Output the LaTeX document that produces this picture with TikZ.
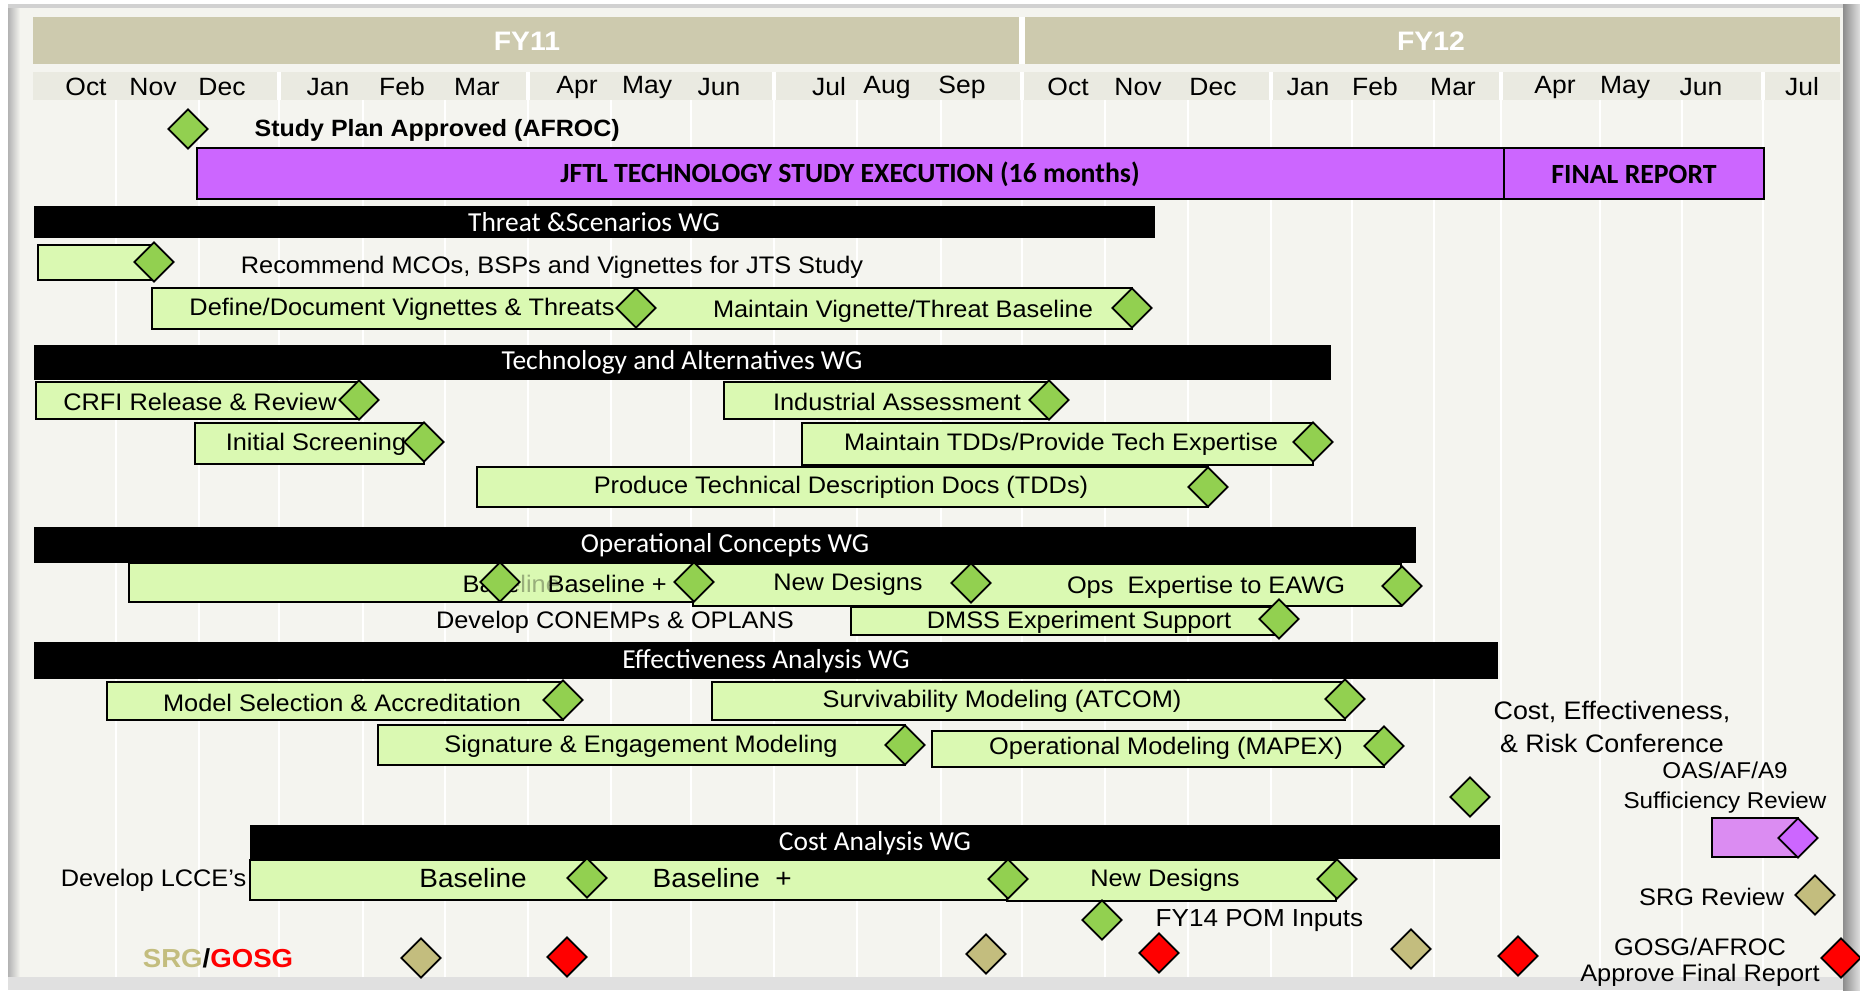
\documentclass[tikz,border=0pt]{standalone}
\usepackage{fontspec}
\setmainfont[FakeStretch=1.06]{Liberation Sans}
\newfontfamily\calibri{Carlito}
\usetikzlibrary{shapes.geometric}
\definecolor{panel}{HTML}{F4F4EF}
\definecolor{fyband}{HTML}{CDCAAE}
\definecolor{monthrow}{HTML}{EAEAE1}
\definecolor{taskfill}{HTML}{DAF9B2}
\definecolor{milegreen}{HTML}{92D050}
\definecolor{study}{HTML}{CC66FF}
\definecolor{studylight}{HTML}{DB8CF2}
\definecolor{srg}{HTML}{C3BD7E}
\definecolor{gosg}{HTML}{FF0000}
\newcommand{\lblfont}{\fontsize{6.8}{8}\selectfont}
\newcommand{\monthfont}{\fontsize{7.1}{8}\selectfont}
\newcommand{\notefont}{\fontsize{7.2}{9.4}\selectfont}
\newcommand{\smallnote}{\fontsize{6.5}{8.5}\selectfont}
\newcommand{\costfont}{\fontsize{7.5}{9}\selectfont}
\newcommand{\wgfont}{\calibri\fontsize{7.8}{9}\selectfont}
\newcommand{\studyfont}{\calibri\bfseries\fontsize{7.9}{9}\selectfont}

\begin{document}
\begin{tikzpicture}[x=0.01cm, y=-0.01cm,
  task/.style={draw=black, fill=taskfill, line width=0.6pt},
  wgbar/.style={fill=black},
  studybar/.style={draw=black, fill=study, line width=0.7pt},
  mile/.style={diamond, draw=black, line width=0.5pt, minimum width=0.4cm, minimum height=0.4cm, inner sep=0pt},
  tlabel/.style={font=\lblfont, inner sep=0pt},
  costlabel/.style={font=\costfont, inner sep=0pt},
  wglabel/.style={font=\wgfont, text=white, inner sep=0pt},
  studylabel/.style={font=\studyfont, inner sep=0pt},
  month/.style={font=\monthfont, inner sep=0pt},
  note/.style={font=\notefont, inner sep=0pt}]
  \useasboundingbox (0,0) rectangle (1860,990);

  % Frame and shadow
  \fill[white] (0,0) rectangle (1860,990);
  \fill[black!18] (8,4) rectangle (1860,990);
  \fill[panel] (18,8) rectangle (1843,977);
  \shade[left color=black!30, right color=panel] (8,8) rectangle (20,977);
  \shade[left color=black!45, right color=black!12] (1843,4) rectangle (1860,990);
  \fill[black!12] (8,977) rectangle (1843,990);

  % Month grid
  \foreach \x in {116,199,279,363,445,528,611,691,774,857,941,1022,1105,1188,1271,1352,1434,1501,1600,1682,1763}
    \draw[white, line width=0.8pt] (\x,100) -- (\x,977);

  % Fiscal years and months
  \fill[fyband] (33,17) rectangle (1840,64);
  \draw[white, line width=1.5pt] (1022,17) -- (1022,64);
  \node[font=\bfseries\fontsize{7.6}{9}\selectfont, text=white, inner sep=0pt] (fy11) at (527,41) {FY11};
  \node[font=\bfseries\fontsize{7.6}{9}\selectfont, text=white, inner sep=0pt] (fy12) at (1431,41) {FY12};
  \fill[monthrow] (33,72) rectangle (1840,100);
  \foreach \x in {279,528,774,1022,1271,1501,1763}
    \draw[white, line width=1pt] (\x,72) -- (\x,100);
  \foreach \x/\m in {86/Oct,153/Nov,222/Dec,328/Jan,402/Feb,477/Mar,577/Apr,647/May,719/Jun,829/Jul,887/Aug,962/Sep,
                     1068/Oct,1138/Nov,1213/Dec,1308/Jan,1375/Feb,1453/Mar,1555/Apr,1625/May,1701/Jun,1802/Jul}
    \node[month] (mo\x) at (\x,87) {\m};

  % Study execution
  \node[font=\bfseries\fontsize{6.7}{8}\selectfont, anchor=west, inner sep=0pt] (plan) at (254,130) {Study Plan Approved (AFROC)};
  \draw[studybar] (197,148) rectangle (1504,199);
  \draw[studybar] (1504,148) rectangle (1764,199);
  \node[studylabel] (exec) at (850,174) {JFTL TECHNOLOGY STUDY EXECUTION (16 months)};
  \node[studylabel] (final) at (1634,174) {FINAL REPORT};

  % Threat & Scenarios WG
  \fill[wgbar] (34,206) rectangle (1155,238);
  \node[wglabel] (wg1) at (594,222) {Threat \&Scenarios WG};
  \draw[task] (38,245) rectangle (154,280);
  \draw[task] (152,288) rectangle (636,329);
  \draw[task] (636,288) rectangle (1132,329);
  \node[tlabel] (recommend) at (552,267) {Recommend MCOs, BSPs and Vignettes for JTS Study};
  \node[tlabel] (define) at (402,309) {Define/Document Vignettes \& Threats};
  \node[tlabel] (maintvig) at (903,311) {Maintain Vignette/Threat Baseline};

  % Technology and Alternatives WG
  \fill[wgbar] (34,345) rectangle (1331,380);
  \node[wglabel] (wg2) at (682,362) {Technology and Alternatives WG};
  \draw[task] (36,382) rectangle (359,419);
  \draw[task] (724,382) rectangle (1049,419);
  \draw[task] (195,423) rectangle (424,464);
  \draw[task] (802,423) rectangle (1313,465);
  \draw[task] (477,467) rectangle (1208,507);
  \node[tlabel] (crfi) at (200,402) {CRFI Release \& Review};
  \node[tlabel] (industry) at (897,402) {Industrial Assessment};
  \node[tlabel] (screen) at (316,444) {Initial Screening};
  \node[tlabel] (maintdd) at (1061,444) {Maintain TDDs/Provide Tech Expertise};
  \node[tlabel] (tdds) at (841,487) {Produce Technical Description Docs (TDDs)};

  % Operational Concepts WG
  \fill[wgbar] (34,527) rectangle (1416,563);
  \node[wglabel] (wg3) at (725,545) {Operational Concepts WG};
  \draw[task] (129,563) rectangle (693,602);
  \draw[task] (693,564) rectangle (1401,606);
  \node[tlabel, anchor=west] (base1) at (462,584) {Baseline};
  \fill[taskfill, opacity=0.7] (517,569) rectangle (562,598);
  \node[tlabel, anchor=west] (base2) at (547,584) {Baseline +};
  \node[tlabel] (newdes1) at (848,584) {New Designs};
  \node[tlabel] (opsexp) at (1206,587) {Ops\ \ Expertise to EAWG};
  \node[tlabel] (conemp) at (615,622) {Develop CONEMPs \& OPLANS};
  \draw[task] (851,607) rectangle (1279,635);
  \node[tlabel] (dmss) at (1079,622) {DMSS Experiment Support};

  % Effectiveness Analysis WG
  \fill[wgbar] (34,642) rectangle (1498,679);
  \node[wglabel] (wg4) at (766,661) {Effectiveness Analysis WG};
  \draw[task] (107,682) rectangle (563,720);
  \draw[task] (712,682) rectangle (1345,720);
  \draw[task] (378,725) rectangle (905,765);
  \draw[task] (932,731) rectangle (1384,767);
  \node[tlabel] (model) at (342,703) {Model Selection \& Accreditation};
  \node[tlabel] (surv) at (1002,701) {Survivability Modeling (ATCOM)};
  \node[tlabel] (sig) at (641,746) {Signature \& Engagement Modeling};
  \node[tlabel] (opmod) at (1166,748) {Operational Modeling (MAPEX)};

  % Reviews on the right
  \node[note, align=center] (cerc) at (1612,727) {Cost, Effectiveness,\\ \& Risk Conference};
  \node[font=\smallnote, align=center, inner sep=0pt] (oas) at (1725,788) {OAS/AF/A9\\Sufficiency Review};
  \draw[draw=black, fill=studylight, line width=0.6pt] (1712,818) rectangle (1798,857);
  \node[tlabel, anchor=east] (srgrev) at (1785,897) {SRG Review};
  \node[tlabel] (gosg) at (1700,947) {GOSG/AFROC};
  \node[tlabel] (approve) at (1700,975) {Approve Final Report};

  % Cost Analysis WG
  \fill[wgbar] (250,825) rectangle (1500,859);
  \node[wglabel] (wg5) at (875,843) {Cost Analysis WG};
  \draw[task] (250,860) rectangle (1008,900);
  \draw[task] (1007,860) rectangle (1336,901);
  \node[tlabel, anchor=east] (lcce) at (247,880) {Develop LCCE's};
  \node[costlabel] (cbase) at (473,878) {Baseline};
  \node[costlabel, anchor=west] (cbaseplus) at (652,878) {Baseline\ \ +};
  \node[tlabel] (newdes2) at (1165,880) {New Designs};
  \node[font=\fontsize{7.0}{8}\selectfont, anchor=west, inner sep=0pt] (pom) at (1155,920) {FY14 POM Inputs};

  % Legend
  \node[font=\bfseries\fontsize{7.4}{9}\selectfont, inner sep=0pt] (legend) at (218,958) {\textcolor{srg}{SRG}/\textcolor{gosg}{GOSG}};

  % Milestones
  \foreach \x/\y/\c [count=\i] in {188/129/milegreen, 154/262/milegreen, 636/308/milegreen, 1132/308/milegreen,
      359/400/milegreen, 1049/400/milegreen, 424/442/milegreen, 1313/442/milegreen, 1208/487/milegreen,
      500/582/milegreen, 694/582/milegreen, 971/583/milegreen, 1402/586/milegreen, 1279/619/milegreen,
      563/700/milegreen, 1345/699/milegreen, 905/745/milegreen, 1384/746/milegreen, 1470/797/milegreen,
      1798/838/study, 587/878/milegreen, 1008/879/milegreen, 1337/879/milegreen, 1102/920/milegreen,
      1815/895/srg, 421/958/srg, 567/957/gosg, 986/954/srg, 1159/953/gosg, 1411/949/srg, 1518/956/gosg, 1841/958/gosg}
    \node[mile, fill=\c] (ms\i) at (\x,\y) {};
\end{tikzpicture}
\end{document}
